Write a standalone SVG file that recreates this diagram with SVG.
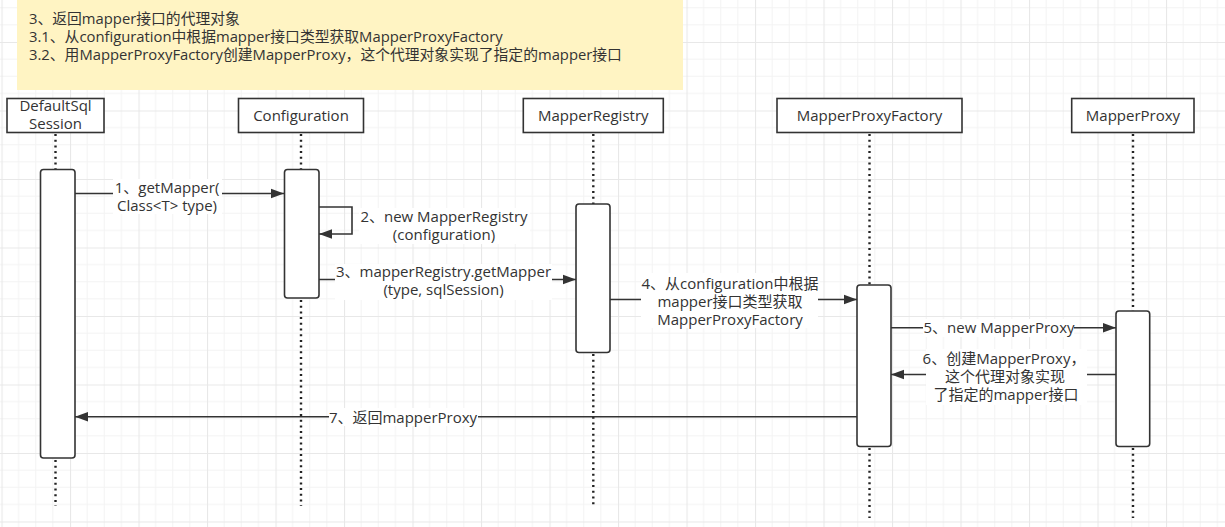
<svg xmlns="http://www.w3.org/2000/svg" width="1225" height="527" viewBox="0 0 1225 527">
<defs>
<pattern id="grid" patternUnits="userSpaceOnUse" x="1.5" y="42" width="68.5" height="68.5">
<path d="M17.125 0V68.5M34.25 0V68.5M51.375 0V68.5M0 17.125H68.5M0 34.25H68.5M0 51.375H68.5" stroke="#f3f3f3" stroke-width="1" fill="none"/>
<path d="M0.5 0V68.5M0 0.5H68.5" stroke="#e8e8e8" stroke-width="1.2" fill="none"/>
</pattern>
<marker id="arr" markerUnits="userSpaceOnUse" markerWidth="14" markerHeight="12" viewBox="0 0 13 10" refX="12.5" refY="5" orient="auto">
<path d="M0,0.5 L12.5,5 L0,9.5 z" fill="#333"/>
</marker>
</defs>
<style>
.t{font-family:"Open Sans","Noto Sans CJK SC",sans-serif;font-size:15px;fill:#333;}
.n{font-family:"Open Sans","Noto Sans CJK SC",sans-serif;font-size:14.8px;fill:#333;}
.box{fill:#fff;stroke:#333;stroke-width:1.6;}
.bar{fill:#fff;stroke:#333;stroke-width:1.6;}
.life{stroke:#222;stroke-width:2.4;stroke-dasharray:2 3.7;fill:none;}
.msg{stroke:#333;stroke-width:1.6;fill:none;marker-end:url(#arr);}
.lbg{fill:#fff;}
</style>
<rect width="1225" height="527" fill="#fff"/>
<rect width="1225" height="527" fill="url(#grid)"/>

<g id="note">
<rect x="17" y="0" width="666" height="90" fill="#fff4c3"/>
<text class="n" x="29" y="23.5">3、返回mapper接口的代理对象<tspan x="29" dy="18">3.1、从configuration中根据mapper接口类型获取MapperProxyFactory</tspan><tspan x="29" dy="18">3.2、用MapperProxyFactory创建MapperProxy，这个代理对象实现了指定的mapper接口</tspan></text>
</g>

<g id="DefaultSqlSession">
<line class="life" x1="55.5" y1="134" x2="55.5" y2="169"/>
<line class="life" x1="55.5" y1="460" x2="55.5" y2="506"/>
<rect class="box" x="7" y="98.5" width="97" height="34"/>
<text class="t" x="55.5" y="110.7" text-anchor="middle">DefaultSql<tspan x="55.5" dy="18">Session</tspan></text>
<rect class="bar" x="40.5" y="169.5" width="34.5" height="288.5" rx="3"/>
</g>

<g id="Configuration">
<line class="life" x1="301" y1="134" x2="301" y2="169"/>
<line class="life" x1="301" y1="300" x2="301" y2="506"/>
<rect class="box" x="238.5" y="98.5" width="125" height="34"/>
<text class="t" x="301" y="121" text-anchor="middle">Configuration</text>
<rect class="bar" x="284.5" y="169.5" width="34.5" height="128.5" rx="3"/>
</g>

<g id="MapperRegistry">
<line class="life" x1="593.3" y1="134" x2="593.3" y2="204"/>
<line class="life" x1="593.3" y1="354" x2="593.3" y2="506"/>
<rect class="box" x="523.3" y="98.5" width="140" height="34"/>
<text class="t" x="593.3" y="121" text-anchor="middle">MapperRegistry</text>
<rect class="bar" x="576" y="204" width="34" height="148.5" rx="3"/>
</g>

<g id="MapperProxyFactory">
<line class="life" x1="869.5" y1="134" x2="869.5" y2="285"/>
<line class="life" x1="869.5" y1="448" x2="869.5" y2="518"/>
<rect class="box" x="777" y="98.5" width="185" height="34"/>
<text class="t" x="869.5" y="121" text-anchor="middle">MapperProxyFactory</text>
<rect class="bar" x="857" y="285" width="34" height="161.5" rx="3"/>
</g>

<g id="MapperProxy">
<line class="life" x1="1133" y1="134" x2="1133" y2="311"/>
<line class="life" x1="1133" y1="448" x2="1133" y2="518"/>
<rect class="box" x="1071.7" y="98.5" width="122.3" height="34"/>
<text class="t" x="1133" y="121" text-anchor="middle">MapperProxy</text>
<rect class="bar" x="1116" y="311" width="33.7" height="135.5" rx="3"/>
</g>

<g id="connectors">
<path class="msg" d="M75 193.5H284"/>
<rect class="lbg" x="113" y="179" width="109" height="35"/>
<text class="t" x="167" y="192.8" text-anchor="middle">1、getMapper(<tspan x="167" dy="18">Class&lt;T&gt; type)</tspan></text>

<path class="msg" d="M319 207H352V234H319"/>
<rect class="lbg" x="359" y="208" width="171" height="36"/>
<text class="t" x="444" y="222.3" text-anchor="middle">2、new MapperRegistry<tspan x="444" dy="18">(configuration)</tspan></text>

<path class="msg" d="M319 279.5H576"/>
<rect class="lbg" x="335" y="264" width="217" height="36"/>
<text class="t" x="443.5" y="277.3" text-anchor="middle">3、mapperRegistry.getMapper<tspan x="443.5" dy="18">(type, sqlSession)</tspan></text>

<path class="msg" d="M610 299.5H857"/>
<rect class="lbg" x="641" y="273" width="177" height="55"/>
<text class="t" x="730" y="288.5" text-anchor="middle">4、从configuration中根据<tspan x="730" dy="18">mapper接口类型获取</tspan><tspan x="730" dy="18">MapperProxyFactory</tspan></text>

<path class="msg" d="M891 327.7H1116"/>
<rect class="lbg" x="923" y="319" width="151" height="18"/>
<text class="t" x="999" y="333" text-anchor="middle">5、new MapperProxy</text>

<path class="msg" d="M1116 374.5H891"/>
<rect class="lbg" x="926" y="349" width="161" height="56"/>
<text class="t" x="1004" y="363.5" text-anchor="middle">6、创建MapperProxy，<tspan x="1005" dy="18.5">这个代理对象实现</tspan><tspan x="1006" dy="18">了指定的mapper接口</tspan></text>

<path class="msg" d="M857 416.7H75"/>
<rect class="lbg" x="329" y="408" width="149" height="18"/>
<text class="t" x="403" y="422.5" text-anchor="middle">7、返回mapperProxy</text>
</g>
</svg>
